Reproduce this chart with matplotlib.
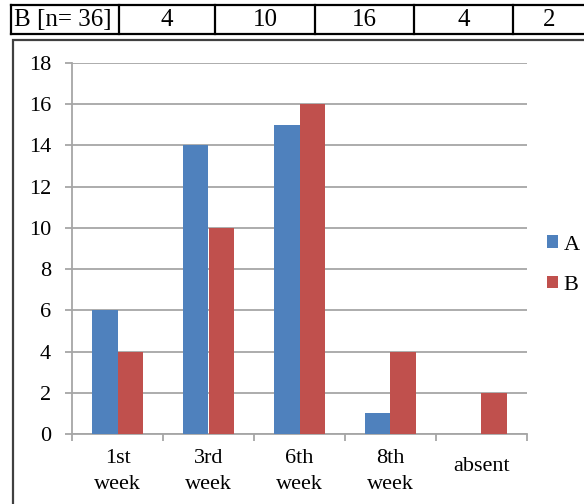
import numpy as np
import matplotlib.pyplot as plt
from matplotlib.lines import Line2D
from matplotlib.patches import Rectangle
from matplotlib.transforms import ScaledTranslation

plt.rcParams['font.family'] = ['Liberation Serif', 'DejaVu Serif']

categories = ['1st\nweek', '3rd\nweek', '6th\nweek', '8th\nweek', 'absent']
series_a = [6, 14, 15, 1, 0]
series_b = [4, 10, 16, 4, 2]
table_head = 'B [n= 36]'
y_ticks = [0, 2, 4, 6, 8, 10, 12, 14, 16, 18]

W, H = 584, 504
fig = plt.figure(figsize=(W / 100, H / 100), dpi=100)


def fx(px):
    return px / W


def fy(py):
    return 1 - py / H


# header row above the chart
cell_edges = [11, 119, 215, 315, 414, 513, 586]
top, bot = 5, 34
for x in cell_edges:
    fig.add_artist(Line2D([fx(x), fx(x)], [fy(top), fy(bot)], color='black',
                          lw=1.6, transform=fig.transFigure))
for y in (top, bot):
    fig.add_artist(Line2D([fx(cell_edges[0]), fx(cell_edges[-1])], [fy(y), fy(y)],
                          color='black', lw=1.6, transform=fig.transFigure))
cell_text = [table_head] + [str(v) for v in series_b]
for i, txt in enumerate(cell_text):
    cx = (cell_edges[i] + cell_edges[i + 1]) / 2
    if i == 0:
        fig.text(fx(cell_edges[0] + 3), fy((top + bot) / 2 + 1), txt,
                 ha='left', va='center', fontsize=18)
    else:
        fig.text(fx(cx), fy((top + bot) / 2 + 1), txt, ha='center',
                 va='center', fontsize=18)

# chart frame
fig.add_artist(Rectangle((fx(13), fy(520)), fx(600 - 13), fy(40) - fy(520),
                         fill=False, edgecolor='#404040', lw=1.6,
                         transform=fig.transFigure))

ax = fig.add_axes([fx(72), fy(434), fx(527 - 72), fy(63) - fy(434)])
x = np.arange(len(categories))
bw = 0.28
ax.bar(x - bw / 2, series_a, bw, color='#4F81BD', label='A', zorder=3)
ax.bar(x + bw / 2, series_b, bw, color='#C0504D', label='B', zorder=3)

ax.set_xlim(-0.5, len(categories) - 0.5)
ax.set_ylim(0, 18)
ax.set_yticks(y_ticks)
ax.yaxis.grid(True, color='#a6a6a6', lw=1.3, zorder=0)
for s in ('top', 'right'):
    ax.spines[s].set_visible(False)
for s in ('left', 'bottom'):
    ax.spines[s].set_color('#a6a6a6')
    ax.spines[s].set_linewidth(1.3)

ax.set_xticks(x)
ax.set_xticklabels(categories, fontsize=16, linespacing=1.5)
ax.set_xticks(np.arange(len(categories) + 1) - 0.5, minor=True)
ax.tick_params(axis='x', which='major', length=0, pad=11)
ax.tick_params(axis='x', which='minor', length=5, width=1.3, color='#a6a6a6')
ax.tick_params(axis='y', length=5, width=1.3, color='#a6a6a6', pad=10,
               labelsize=16)

# single-line label sits between the two lines of its neighbours
for lbl in ax.get_xticklabels():
    if '\n' not in lbl.get_text():
        lbl.set_transform(lbl.get_transform()
                          + ScaledTranslation(0, -0.08, fig.dpi_scale_trans))

ax.legend(loc='center left', bbox_to_anchor=((547 - 72) / (527 - 72), 0.455),
          frameon=False, fontsize=16, handlelength=0.5, handleheight=0.5,
          handletextpad=0.25, labelspacing=0.95, borderaxespad=0, borderpad=0)

fig.savefig('out.png', dpi=100)
